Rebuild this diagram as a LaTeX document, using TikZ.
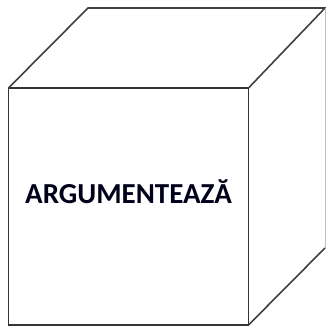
\documentclass[tikz,border=0pt]{standalone}
\usepackage{fontspec}
\setmainfont{Carlito}
\usepackage{tikz}

\begin{document}
\begin{tikzpicture}[x=1pt, y=1pt, every node/.style={font=\bfseries\fontsize{29}{33}\selectfont}]
			\useasboundingbox (0,0) rectangle (326,327);
			\coordinate (FBL) at (8.5,2);
			\coordinate (FBR) at (248.5,2);
			\coordinate (FTR) at (248.5,239);
			\coordinate (FTL) at (8.5,239);
			\coordinate (BTL) at (88,319);
			\coordinate (BTR) at (325,319);
			\coordinate (BBR) at (325,79);
			\node[text=black!90!blue, anchor=base] (L) at (128.5,123) {ARGUMENTEAZĂ};
			\draw[line width=1.6pt, black!80] (FBL) -- (FBR) -- (FTR) -- (FTL) -- cycle;
			\draw[line width=1.6pt, black!75] (FTL) -- (BTL) -- (BTR) -- (FTR);
			\draw[line width=1.6pt, black!75] (FBR) -- (BBR);
			\draw[line width=0.6pt, black!25] (BTR) -- (BBR);
		\end{tikzpicture}
\end{document}
